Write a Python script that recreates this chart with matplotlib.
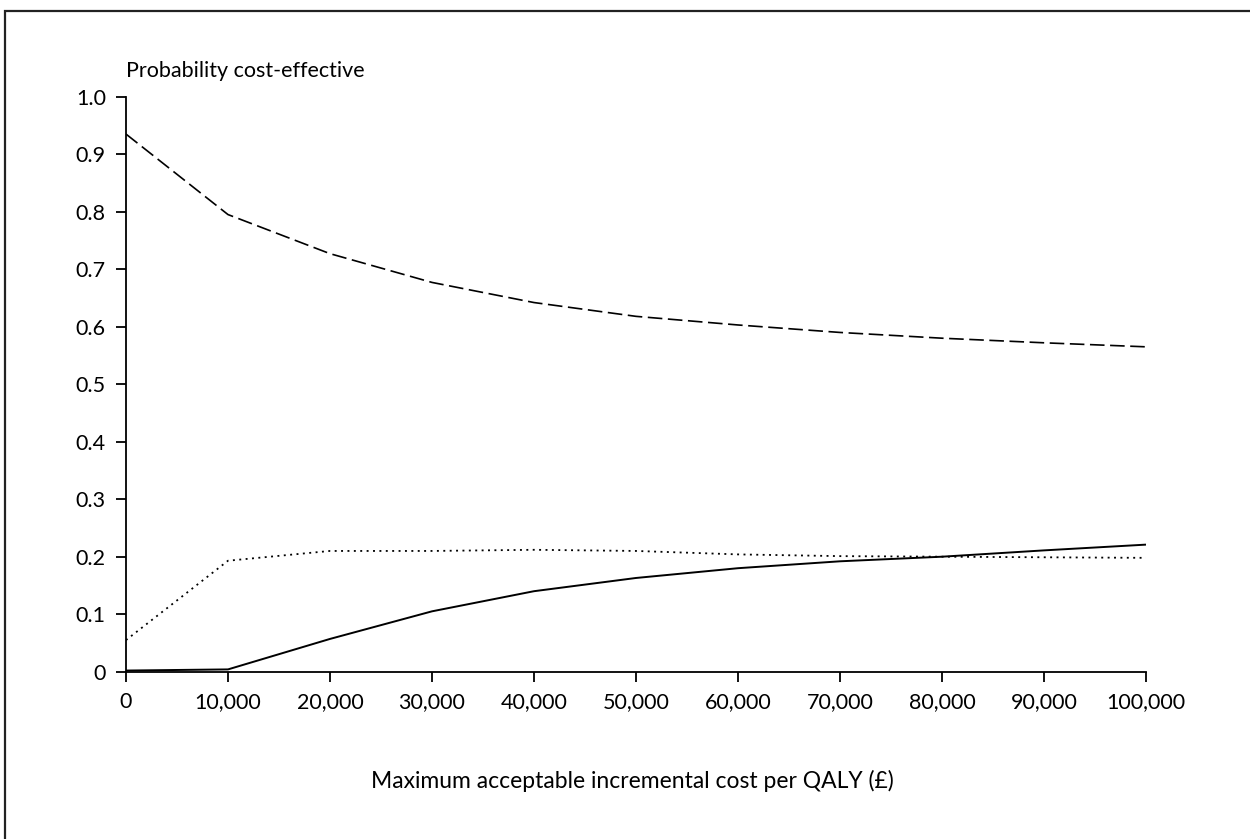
import matplotlib
matplotlib.use("Agg")
import matplotlib.pyplot as plt
from matplotlib.patches import Rectangle
from matplotlib.ticker import FuncFormatter

plt.rcParams['font.family'] = ['Lato', 'DejaVu Sans']
plt.rcParams['lines.scale_dashes'] = False

# Willingness-to-pay thresholds (£ per QALY)
thresholds = [0, 10000, 20000, 30000, 40000, 50000, 60000, 70000, 80000, 90000, 100000]

# Probability that each strategy is cost-effective at each threshold
prob_dashed = [0.935, 0.795, 0.727, 0.677, 0.642, 0.618, 0.603, 0.590, 0.580, 0.572, 0.565]
prob_dotted = [0.055, 0.193, 0.210, 0.210, 0.212, 0.210, 0.204, 0.201, 0.200, 0.199, 0.198]
prob_solid = [0.002, 0.004, 0.057, 0.105, 0.140, 0.163, 0.180, 0.192, 0.200, 0.211, 0.221]

x_ticks = [0, 10000, 20000, 30000, 40000, 50000, 60000, 70000, 80000, 90000, 100000]
y_ticks = [0, 0.1, 0.2, 0.3, 0.4, 0.5, 0.6, 0.7, 0.8, 0.9, 1.0]

W, H = 1250, 839
fig = plt.figure(figsize=(W / 100, H / 100), dpi=100)
ax = fig.add_axes([126 / W, 1 - 671.7 / H, (1146 - 126) / W, (671.7 - 96.7) / H])

lw = 1.2
ax.plot(thresholds, prob_dashed, color='black', lw=lw, dashes=(10.5, 4.0))
ax.plot(thresholds, prob_dotted, color='black', lw=lw + 0.1, dashes=(1.4, 3.2))
ax.plot(thresholds, prob_solid, color='black', lw=lw + 0.2, solid_capstyle='butt')

ax.set_xlim(0, 100000)
ax.set_ylim(0, 1.0)
ax.set_xticks(x_ticks)
ax.set_yticks(y_ticks)
ax.xaxis.set_major_formatter(FuncFormatter(lambda v, p: f"{int(v):,}"))
ax.yaxis.set_major_formatter(FuncFormatter(lambda v, p: "0" if v == 0 else f"{v:.1f}"))

for side in ('top', 'right'):
    ax.spines[side].set_visible(False)
for side in ('left', 'bottom'):
    ax.spines[side].set_linewidth(1.3)
ax.tick_params(axis='both', direction='out', length=7.5, width=1.3, labelsize=15.5, pad=7)

ax.text(0, 1.045, "Probability cost-effective", transform=ax.transAxes,
        ha='left', va='center', fontsize=15.5)
fig.text(632 / W, 1 - 781 / H, "Maximum acceptable incremental cost per QALY (£)",
         ha='center', va='center', fontsize=16.5)

# Frame around the figure
fig.add_artist(Rectangle((5 / W, -0.2), 1.5, 1.2 - 11 / H, transform=fig.transFigure,
                         fill=False, lw=1.6, edgecolor='#222222'))

fig.savefig("out.png", dpi=100, facecolor='white')
